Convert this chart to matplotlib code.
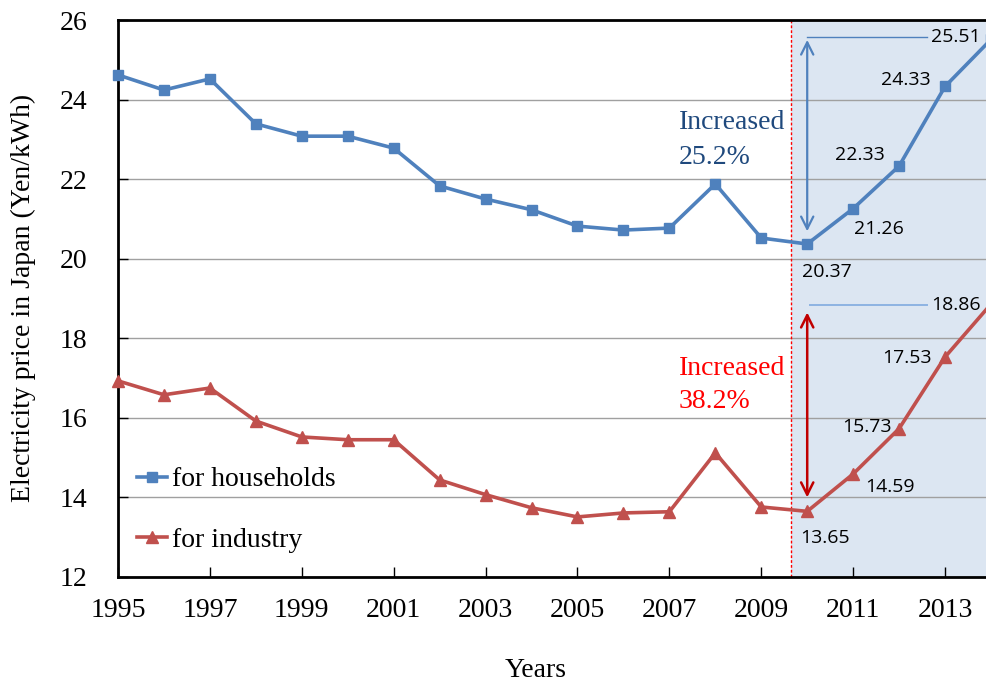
import matplotlib
matplotlib.use("Agg")
import matplotlib.pyplot as plt

years = list(range(1995, 2015))
households = [24.62, 24.24, 24.52, 23.39, 23.08, 23.08, 22.78, 21.83, 21.50, 21.23,
              20.82, 20.72, 20.77, 21.88, 20.52, 20.37, 21.26, 22.33, 24.33, 25.51]
industry = [16.93, 16.58, 16.75, 15.92, 15.52, 15.45, 15.45, 14.44, 14.07, 13.74,
            13.51, 13.61, 13.64, 15.12, 13.76, 13.65, 14.59, 15.73, 17.53, 18.86]
xticks = list(range(1995, 2015, 2))
yticks = list(range(12, 27, 2))

hh_labels = ["20.37", "21.26", "22.33", "24.33", "25.51"]
ind_labels = ["13.65", "14.59", "15.73", "17.53", "18.86"]
hh_label_pos = [(2010.43, 19.67), (2011.56, 20.75), (2011.15, 22.61), (2012.15, 24.49), (2013.24, 25.57)]
ind_label_pos = [(2010.39, 12.98), (2011.8, 14.27), (2011.3, 15.77), (2012.17, 17.51), (2013.24, 18.84)]

BLUE = "#4F81BD"
RED = "#C0504D"
SERIF = "Liberation Serif"
SANS = "Open Sans"

fig = plt.figure(figsize=(9.87, 6.86), dpi=100)
ax = fig.add_axes([118/987, 1-577/686, (991-118)/987, (577-20)/686])

ax.set_xlim(1995, 2014)
ax.set_ylim(12, 26)

ax.axvspan(2009.65, 2014.5, color="#DCE6F2", zorder=0, lw=0)
ax.axvline(2009.65, color="#FF0000", ls=(0, (2, 1.5)), lw=1.0, zorder=1)

ax.set_yticks(yticks)
ax.set_xticks(xticks)
ax.grid(axis="y", color="#A0A0A0", lw=1.0, zorder=0.5)
ax.set_axisbelow(True)

for s in ["left", "bottom", "top"]:
    ax.spines[s].set_color("black")
    ax.spines[s].set_linewidth(2)
ax.spines["right"].set_visible(False)

ax.tick_params(axis="x", direction="in", length=7, width=1, pad=15, labelsize=20)
ax.tick_params(axis="y", direction="in", length=7, width=1, pad=22, labelsize=20)
for lab in ax.get_xticklabels() + ax.get_yticklabels():
    lab.set_fontfamily(SERIF)

ax.plot(years, households, color=BLUE, lw=2.6, marker="s", ms=7.5, label="for households", zorder=3, clip_on=False)
ax.plot(years, industry, color=RED, lw=2.6, marker="^", ms=8.5, label="for industry", zorder=3, clip_on=False)

for (x, y), t in zip(hh_label_pos, hh_labels):
    ax.text(x, y, t, ha="center", va="center", fontsize=14, fontfamily=SANS, color="black", zorder=4)
for (x, y), t in zip(ind_label_pos, ind_labels):
    ax.text(x, y, t, ha="center", va="center", fontsize=14, fontfamily=SANS, color="black", zorder=4)

# leader lines
ax.plot([2010, 2012.61], [25.57, 25.57], color=BLUE, lw=1.0, zorder=2)
ax.plot([2010.05, 2012.61], [18.84, 18.84], color="#8DB3E2", lw=1.4, zorder=2)

# double arrows
ax.annotate("", xy=(2010, 25.57), xytext=(2010, 20.62),
            arrowprops=dict(arrowstyle="<->", color=BLUE, lw=1.6, mutation_scale=22))
ax.annotate("", xy=(2010, 18.72), xytext=(2010, 13.93),
            arrowprops=dict(arrowstyle="<->", color="#C00000", lw=1.8, mutation_scale=22))

ax.text(2007.21, 23.42, "Increased", ha="left", va="center", fontsize=20, fontfamily=SERIF, color="#1F497D")
ax.text(2007.21, 22.54, "25.2%", ha="left", va="center", fontsize=20, fontfamily=SERIF, color="#1F497D")
ax.text(2007.21, 17.24, "Increased", ha="left", va="center", fontsize=20, fontfamily=SERIF, color="#FF0000")
ax.text(2007.21, 16.40, "38.2%", ha="left", va="center", fontsize=20, fontfamily=SERIF, color="#FF0000")

leg = ax.legend(loc="lower left", bbox_to_anchor=(0.0, 0.008), frameon=False,
                prop={"family": SERIF, "size": 20}, handlelength=1.05, handletextpad=0.2,
                labelspacing=1.27, borderaxespad=0.3)

ax.set_xlabel("Years", fontfamily=SERIF, fontsize=20)
ax.set_ylabel("Electricity price in Japan (Yen/kWh)", fontfamily=SERIF, fontsize=20)
ax.xaxis.set_label_coords((536-118)/(991-118), -(658-577)/557)
ax.yaxis.set_label_coords(-(118-36)/(991-118), (577-298)/557)

fig.savefig("out.png", dpi=100)
